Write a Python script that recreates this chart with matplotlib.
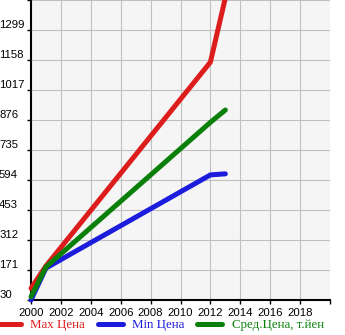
import numpy as np
import matplotlib
matplotlib.use("agg")
import matplotlib.pyplot as plt

years = [2000, 2001, 2012, 2013]
max_price = [85, 190, 1148, 1450]
min_price = [30, 180, 618, 623]
avg_price = [45, 185, 865, 923]

series_names = ["Max Цена", "Min Цена", "Сред.Цена, т.йен"]
series_colors = ["#dd1c1c", "#1c1cdc", "#0a800a"]

ytick_vals = [30, 171, 312, 453, 594, 735, 876, 1017, 1158, 1299, 1440]
ytick_labels = ["30", "171", "312", "453", "594", "735", "876", "1017", "1158", "1299", ""]
xtick_vals = list(range(2000, 2021, 2))
xtick_labels = [str(y) for y in range(2000, 2019, 2)] + [""]

fig = plt.figure(figsize=(3.45, 3.35), dpi=100)
ax = fig.add_axes([31 / 345, 35 / 335, 299 / 345, 300 / 335])
ax.set_facecolor("#f5f5f5")

for vals, name, col in zip([max_price, min_price, avg_price], series_names, series_colors):
    ax.plot(years, vals, color=col, lw=3.6, solid_capstyle="round",
            solid_joinstyle="round", label=name, clip_on=False, zorder=3)

ax.set_xlim(2000, 2020)
ax.set_ylim(30, 1440)
ax.set_xticks(xtick_vals)
ax.set_xticklabels(xtick_labels)
ax.set_yticks(ytick_vals)
ax.set_yticklabels(ytick_labels)
ax.grid(True, color="#c0c0c0", lw=0.8)
ax.set_axisbelow(True)

for s in ["top", "right"]:
    ax.spines[s].set_visible(False)
for s in ["left", "bottom"]:
    ax.spines[s].set_linewidth(1.5)
    ax.spines[s].set_color("black")
    ax.spines[s].set_zorder(2.5)

ax.tick_params(axis="both", length=3, width=1, color="black",
               labelsize=8.2, labelfontfamily="Liberation Sans")
ax.tick_params(axis="y", pad=20)
ax.tick_params(axis="x", pad=3)
for lab in ax.get_yticklabels():
    lab.set_horizontalalignment("left")
    lab.set_verticalalignment("bottom")

leg = fig.legend(loc="center left", bbox_to_anchor=(-0.012, 10 / 335), ncol=3,
                 frameon=False, prop={"family": "Liberation Serif", "size": 9.3},
                 handlelength=1.95, handletextpad=0.7, columnspacing=1.0,
                 borderpad=0, borderaxespad=0)
for txt, col in zip(leg.get_texts(), series_colors):
    txt.set_color(col)

fig.savefig("out.png", dpi=100)
